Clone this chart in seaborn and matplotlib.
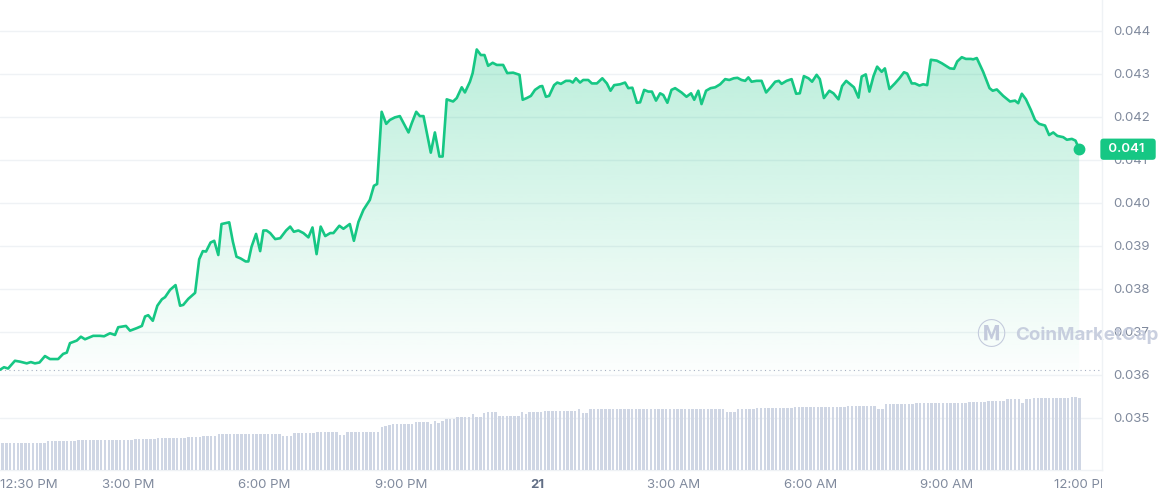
import numpy as np
import matplotlib
matplotlib.use("Agg")
import matplotlib.pyplot as plt
from matplotlib.colors import to_rgb
from matplotlib.patches import Rectangle
import seaborn as sns

# price: hours after 12:00 PM (day 20) and price in USD
hours = [
    0.19, 0.28, 0.37, 0.52, 0.63, 0.78, 0.87, 0.96, 1.06, 1.18,
    1.29, 1.47, 1.58, 1.66, 1.73, 1.88, 1.97, 2.06, 2.24, 2.39,
    2.48, 2.61, 2.72, 2.79, 2.96, 3.05, 3.20, 3.31, 3.38, 3.45,
    3.55, 3.65, 3.75, 3.82, 3.93, 4.05, 4.15, 4.22, 4.33, 4.48,
    4.57, 4.65, 4.72, 4.82, 4.90, 4.99, 5.06, 5.23, 5.31, 5.39,
    5.48, 5.59, 5.65, 5.72, 5.82, 5.91, 5.98, 6.05, 6.13, 6.24,
    6.35, 6.48, 6.57, 6.65, 6.75, 6.86, 6.97, 7.06, 7.15, 7.24,
    7.34, 7.45, 7.52, 7.65, 7.74, 7.88, 7.97, 8.07, 8.18, 8.32,
    8.41, 8.48, 8.58, 8.68, 8.76, 8.87, 8.98, 9.17, 9.24, 9.34,
    9.42, 9.50, 9.66, 9.75, 9.85, 9.92, 10.01, 10.15, 10.23, 10.34,
    10.41, 10.52, 10.58, 10.67, 10.76, 10.84, 10.92, 11.02, 11.11, 11.25,
    11.34, 11.47, 11.61, 11.68, 11.77, 11.86, 11.95, 12.06, 12.11, 12.19,
    12.26, 12.37, 12.44, 12.52, 12.63, 12.72, 12.78, 12.85, 12.94, 13.01,
    13.12, 13.20, 13.31, 13.43, 13.53, 13.61, 13.69, 13.82, 13.93, 14.00,
    14.09, 14.19, 14.26, 14.35, 14.44, 14.52, 14.61, 14.70, 14.77, 14.86,
    14.95, 15.03, 15.17, 15.28, 15.38, 15.45, 15.54, 15.61, 15.71, 15.81,
    15.91, 16.02, 16.13, 16.22, 16.32, 16.40, 16.49, 16.57, 16.64, 16.71,
    16.82, 16.93, 17.03, 17.13, 17.23, 17.31, 17.37, 17.48, 17.59, 17.69,
    17.77, 17.86, 17.96, 18.04, 18.14, 18.21, 18.30, 18.42, 18.51, 18.62,
    18.70, 18.79, 18.87, 18.96, 19.06, 19.13, 19.22, 19.30, 19.39, 19.47,
    19.57, 19.64, 19.74, 19.86, 19.96, 20.06, 20.13, 20.23, 20.30, 20.40,
    20.48, 20.57, 20.65, 20.78, 20.89, 21.07, 21.16, 21.23, 21.33, 21.42,
    21.53, 21.58, 21.66, 21.80, 21.94, 22.01, 22.10, 22.24, 22.39, 22.50,
    22.57, 22.65, 22.74, 22.85, 22.94, 23.03, 23.16, 23.25, 23.34, 23.43,
    23.56, 23.64, 23.75, 23.83, 23.91,
]
price = [
    0.03612, 0.03618, 0.03615, 0.03633, 0.03631, 0.03627, 0.03630, 0.03627, 0.03629, 0.03644,
    0.03637, 0.03637, 0.03649, 0.03652, 0.03674, 0.03680, 0.03689, 0.03683, 0.03691, 0.03691,
    0.03690, 0.03697, 0.03693, 0.03711, 0.03714, 0.03703, 0.03709, 0.03714, 0.03736, 0.03739,
    0.03726, 0.03761, 0.03776, 0.03781, 0.03798, 0.03809, 0.03761, 0.03763, 0.03777, 0.03791,
    0.03869, 0.03888, 0.03887, 0.03908, 0.03912, 0.03879, 0.03951, 0.03955, 0.03910, 0.03875,
    0.03871, 0.03864, 0.03864, 0.03898, 0.03928, 0.03888, 0.03936, 0.03936, 0.03930, 0.03916,
    0.03918, 0.03936, 0.03945, 0.03933, 0.03936, 0.03930, 0.03920, 0.03943, 0.03881, 0.03945,
    0.03923, 0.03930, 0.03930, 0.03947, 0.03940, 0.03951, 0.03912, 0.03956, 0.03984, 0.04007,
    0.04040, 0.04044, 0.04212, 0.04184, 0.04193, 0.04199, 0.04202, 0.04164, 0.04185, 0.04212,
    0.04202, 0.04202, 0.04117, 0.04164, 0.04108, 0.04108, 0.04241, 0.04236, 0.04244, 0.04269,
    0.04257, 0.04282, 0.04302, 0.04357, 0.04344, 0.04344, 0.04319, 0.04326, 0.04321, 0.04321,
    0.04302, 0.04303, 0.04298, 0.04240, 0.04244, 0.04249, 0.04263, 0.04271, 0.04272, 0.04247,
    0.04249, 0.04274, 0.04280, 0.04277, 0.04284, 0.04284, 0.04280, 0.04290, 0.04280, 0.04286,
    0.04286, 0.04278, 0.04278, 0.04290, 0.04278, 0.04261, 0.04274, 0.04276, 0.04280, 0.04267,
    0.04268, 0.04233, 0.04234, 0.04263, 0.04259, 0.04259, 0.04238, 0.04255, 0.04251, 0.04233,
    0.04263, 0.04267, 0.04257, 0.04247, 0.04255, 0.04240, 0.04261, 0.04230, 0.04261, 0.04267,
    0.04269, 0.04276, 0.04288, 0.04286, 0.04290, 0.04291, 0.04286, 0.04284, 0.04292, 0.04282,
    0.04284, 0.04284, 0.04257, 0.04269, 0.04282, 0.04284, 0.04277, 0.04284, 0.04288, 0.04254,
    0.04255, 0.04295, 0.04290, 0.04282, 0.04298, 0.04288, 0.04244, 0.04261, 0.04255, 0.04241,
    0.04272, 0.04284, 0.04277, 0.04269, 0.04245, 0.04294, 0.04299, 0.04259, 0.04295, 0.04317,
    0.04305, 0.04313, 0.04265, 0.04278, 0.04290, 0.04304, 0.04301, 0.04278, 0.04278, 0.04273,
    0.04276, 0.04274, 0.04333, 0.04331, 0.04325, 0.04313, 0.04312, 0.04329, 0.04339, 0.04335,
    0.04335, 0.04334, 0.04337, 0.04305, 0.04267, 0.04261, 0.04264, 0.04249, 0.04236, 0.04238,
    0.04232, 0.04254, 0.04241, 0.04216, 0.04193, 0.04184, 0.04180, 0.04158, 0.04164, 0.04156,
    0.04153, 0.04147, 0.04149, 0.04145, 0.04125,
]

# volume bars, one every 5 minutes from 12:15 PM (relative units)
vol_start = 0.25
vol_step = 5 / 60
volume = [
    27.3, 27.3, 27.3, 27.3, 27.3, 27.3, 27.3, 27.3, 27.3, 27.3, 27.3, 27.3,
    28.7, 28.7, 28.7, 28.7, 28.7, 28.7, 28.7, 28.7,
    30, 30, 30, 30, 30, 30, 30, 30, 30, 30, 30, 30, 30, 30, 30,
    30.7, 30.7, 30.7, 30.7, 30.7, 30.7,
    31.7, 31.7, 31.7, 31.7, 31.7, 31.7, 31.7, 31.7,
    33, 33, 33, 33,
    34, 34, 34, 34,
    36, 36, 36, 36, 36, 36, 36, 36, 36, 36, 36, 36, 36, 36, 36, 36, 36,
    34, 34, 34,
    36.7, 36.7, 36.7, 36.7, 36.7, 36.7,
    37.7, 37.7, 37.7, 37.7, 37.7, 37.7,
    34.7, 34.7,
    38.5, 38.5, 38.5, 38.5, 38.5, 38.5, 38.5, 38.5, 38.5,
    42.7, 44, 45,
    46, 46, 46, 46, 46, 46,
    47.7, 47.7, 47.7, 47.7,
    45.7, 49.3, 46.7, 49.3,
    51.3, 51.3, 51.3,
    53, 53, 53, 53,
    55.7, 53.3, 53.3, 56.7,
    57.7, 57.7, 57.7,
    54.3, 54.3, 54.3, 54.3, 54.3, 54.3,
    58.3, 55.7,
    58.3, 58.3, 58.3, 58.3,
    59.5, 59.5, 59.5, 59.5, 59.5, 59.5, 59.5, 59.5, 59.5,
    60.7, 57.3, 57.3,
    61, 61, 61, 61, 61, 61, 61, 61, 61, 61, 61, 61,
    61, 61, 61, 61, 61, 61, 61, 61, 61, 61, 61, 61,
    61, 61, 61, 61, 61, 61, 61, 61, 61, 61, 61, 61,
    58.3, 58.3, 58.3,
    61.3, 61.3, 61.3, 61.3, 61.3,
    62.3, 62.3, 62.3, 62.3, 62.3, 62.3, 62.3, 62.3, 62.3, 62.3,
    63.3, 63.3, 63.3, 63.3, 63.3, 63.3, 63.3, 63.3, 63.3, 63.3, 63.3, 63.3, 63.3, 63.3,
    64.3, 64.3, 64.3, 64.3, 64.3, 64.3, 64.3, 64.3,
    61.3, 61.3,
    65.7, 65.7, 65.7, 65.7, 65.7, 65.7, 65.7, 65.7,
    66.7, 66.7, 66.7, 66.7, 66.7, 66.7,
    67.3, 67.3, 67.3, 67.3, 67.3, 67.3, 67.3, 67.3,
    68.5, 68.5, 68.5, 68.5, 68.5,
    69.3, 69.3, 69.3, 69.3, 69.3,
    70.7, 70.7, 70.7, 70.7,
    67.3, 70.7, 70.7,
    71.7, 71.7, 71.7, 71.7, 71.7, 71.7, 71.7, 71.7, 71.7, 71.7,
    72.7, 72.7, 71.7,
]

y_ticks = [0.035, 0.036, 0.037, 0.038, 0.039, 0.040, 0.041, 0.042, 0.043, 0.044]
x_ticks = [0.5, 3, 6, 9, 12, 15, 18, 21, 24]
x_labels = ["12:30 PM", "3:00 PM", "6:00 PM", "9:00 PM", "21",
            "3:00 AM", "6:00 AM", "9:00 AM", "12:00 PM"]
last_label = "0.041"

GREEN = "#16c784"
GREY = "#808a9d"
LINE_GREY = "#eff2f5"
MARK = "#c3cadc"

sns.set_style("white")
plt.rcParams["font.family"] = ["Inter", "DejaVu Sans"]

fig = plt.figure(figsize=(11.61, 5), dpi=100)
ax = fig.add_axes([0, 0.06, 1102 / 1161, 0.94])
ax_vol = ax.twinx()
ax.yaxis.tick_right()

x_lim = (0.192, 24.412)
y_lim = (0.03379, 0.04472)
base = 0.036

# gradient area under the price line
fill = ax.fill_between(hours, price, base, color="none", lw=0)
grad = np.zeros((256, 1, 4))
grad[..., :3] = to_rgb(GREEN)
grad[:, 0, 3] = np.linspace(0.01, 0.33, 256)
im = ax.imshow(grad, extent=[hours[0], hours[-1], base, y_lim[1]],
               origin="lower", aspect="auto", interpolation="bilinear", zorder=1)
im.set_clip_path(fill.get_paths()[0], transform=ax.transData)

sns.lineplot(x=hours, y=price, ax=ax, color=GREEN, linewidth=1.9, zorder=3)
ax.lines[-1].set_solid_joinstyle("round")
ax.plot(hours[-1], price[-1], "o", ms=7.5, color=GREEN, zorder=4, clip_on=False)

# opening price reference
ax.axhline(price[0], color="#a6b0c3", lw=0.8, dashes=(1, 3), zorder=2)

ax.set_xlim(*x_lim)
ax.set_ylim(*y_lim)
ax.set_yticks(y_ticks)
ax.set_yticklabels([f"{t:.3f}" for t in y_ticks])
ax.grid(axis="y", color=LINE_GREY, lw=1)
ax.grid(axis="x", visible=False)
ax.set_axisbelow(True)
ax.tick_params(axis="y", length=0, pad=8, labelsize=9.5, labelcolor=GREY)
ax.set_xticks(x_ticks)
ax.tick_params(axis="x", length=4, width=1, color="#e8ebf0", labelbottom=False)
for side in ["top", "left"]:
    ax.spines[side].set_visible(False)
for side in ["right", "bottom"]:
    ax.spines[side].set_color(LINE_GREY)
    ax.spines[side].set_linewidth(1)

# time labels
xtr = ax.get_xaxis_transform()
clip = Rectangle((0, 0), 1102 / 1161, 1, transform=fig.transFigure)
for i, (h, lab) in enumerate(zip(x_ticks, x_labels)):
    kw = dict(transform=xtr, va="center", fontsize=9.5, color=GREY)
    if lab == "21":
        kw.update(fontweight="bold", color="#616e85")
    if i == 0:
        t = ax.text(x_lim[0], -0.032, lab, ha="left", **kw)
    else:
        t = ax.text(h, -0.032, lab, ha="center", **kw)
    if i == len(x_ticks) - 1:
        t.set_clip_on(True)
        t.set_clip_path(clip)

# current price badge
ytr = ax.get_yaxis_transform()
ax.text(1.0027, price[-1], f" {last_label}  ", transform=ytr, ha="left", va="center",
        fontsize=9.5, fontweight="semibold", color="white", clip_on=False, zorder=5,
        bbox=dict(boxstyle="round,pad=0.35,rounding_size=0.25", fc=GREEN, ec="none"))

# watermark
ax.text(0.899, 0.287, "\u24c2", transform=ax.transAxes, fontsize=21, color=MARK,
        ha="center", va="center", zorder=2, clip_on=False,
        family=["Noto Sans CJK JP", "DejaVu Sans"], fontweight="bold")
ax.text(0.921, 0.287, "CoinMarketCap", transform=ax.transAxes, fontsize=13.5,
        fontweight="bold", color=MARK, ha="left", va="center", zorder=2,
        clip_on=False, alpha=0.9)

# volume pane
vol_hours = [vol_start + i * vol_step for i in range(len(volume))]
ax_vol.bar(vol_hours, volume, width=0.055, color="#cfd6e4", linewidth=0)
ax_vol.set_ylim(0, 470)
ax_vol.set_yticks([])
ax_vol.grid(False)
for s in ax_vol.spines.values():
    s.set_visible(False)
ax_vol.set_xlim(*x_lim)

fig.savefig("out.png", dpi=100, facecolor="white")
